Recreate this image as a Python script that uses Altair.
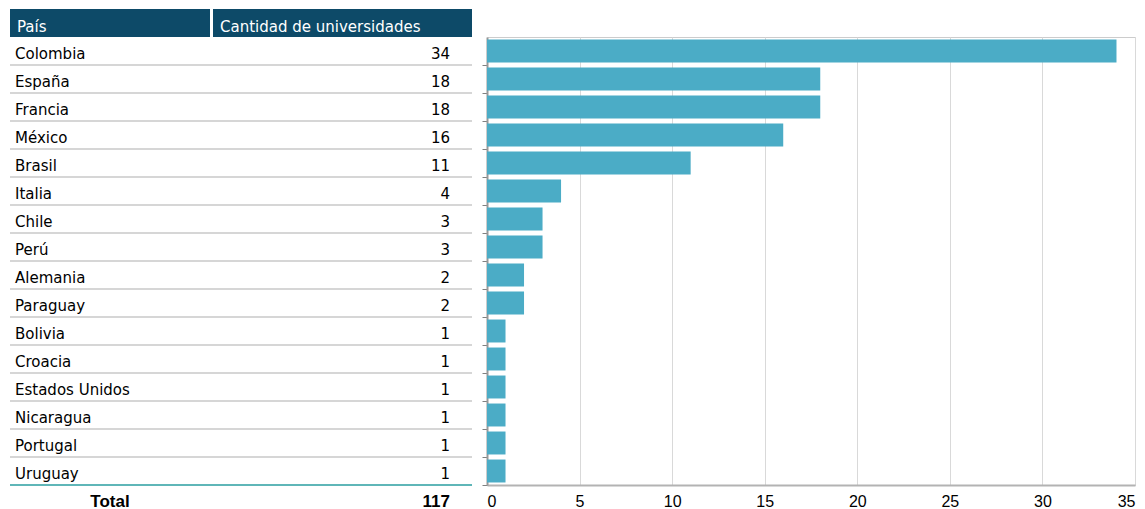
import altair as alt
import pandas as pd

countries = ["Colombia", "España", "Francia", "México", "Brasil", "Italia", "Chile", "Perú",
             "Alemania", "Paraguay", "Bolivia", "Croacia", "Estados Unidos", "Nicaragua",
             "Portugal", "Uruguay"]
counts = [34, 18, 18, 16, 11, 4, 3, 3, 2, 2, 1, 1, 1, 1, 1, 1]
headers = ["País", "Cantidad de universidades"]
total_label = "Total"
x_ticks = [0, 5, 10, 15, 20, 25, 30, 35]

BAR = "#4BACC6"
HEAD = "#0D4A68"
TABLE_FONT = "DejaVu Sans"
NARROW = "Liberation Sans Narrow, Liberation Sans, Arial"

n = len(countries)
LW = 462   # table panel width
RW = 648   # bar panel width
H = 448    # rows area height

df = pd.DataFrame({"country": countries, "count": counts, "row": list(range(n))})
df["mid"] = df["row"] + 0.5
df["line"] = df["row"] + 1
df["kind"] = ["sep"] * (n - 1) + ["end"]

header_df = pd.DataFrame({
    "label": headers,
    "x0": [0, 203], "x1": [200, LW], "tx": [7, 210],
    "top": [-1, -1], "bot": [0, 0], "mid": [-0.5, -0.5],
})
total_df = pd.DataFrame({
    "label": [total_label, str(sum(counts))],
    "tx": [100, 440], "align": ["center", "right"], "mid": [n + 0.5, n + 0.5],
})

yq = alt.Scale(domain=[0, n], reverse=True, nice=False, zero=False)
xq = alt.Scale(domain=[0, LW], nice=False, zero=False)

base_l = alt.Chart(df)

head_rect = alt.Chart(header_df).mark_rect(color=HEAD).encode(
    x=alt.X("x0:Q", scale=xq, axis=None), x2="x1:Q",
    y=alt.Y("top:Q", scale=yq, axis=None), y2="bot:Q",
)
head_text = alt.Chart(header_df).mark_text(
    align="left", baseline="middle", color="white", font=TABLE_FONT, fontSize=15, dy=4
).encode(
    x=alt.X("tx:Q", scale=xq, axis=None),
    y=alt.Y("mid:Q", scale=yq, axis=None),
    text="label:N",
)
lines = base_l.mark_rule(strokeWidth=2).encode(
    x=alt.value(0), x2=alt.value(LW),
    y=alt.Y("line:Q", scale=yq, axis=None),
    color=alt.Color("kind:N", scale=alt.Scale(domain=["sep", "end"], range=["#d6d6d6", "#5fb6b8"]), legend=None),
)
names = base_l.mark_text(
    align="left", baseline="middle", color="black", font=TABLE_FONT, fontSize=15, dy=3
).encode(
    x=alt.value(5), y=alt.Y("mid:Q", scale=yq, axis=None), text="country:N",
)
nums = base_l.mark_text(
    align="right", baseline="middle", color="black", font=TABLE_FONT, fontSize=15, dy=3
).encode(
    x=alt.value(440), y=alt.Y("mid:Q", scale=yq, axis=None), text="count:Q",
)
tot_c = alt.Chart(total_df).transform_filter("datum.align == 'center'").mark_text(
    align="center", baseline="middle", color="black", font=NARROW, fontSize=17, fontWeight="bold", dy=3
).encode(x=alt.X("tx:Q", scale=xq, axis=None), y=alt.Y("mid:Q", scale=yq, axis=None), text="label:N")
tot_r = alt.Chart(total_df).transform_filter("datum.align == 'right'").mark_text(
    align="right", baseline="middle", color="black", font=NARROW, fontSize=17, fontWeight="bold", dy=3
).encode(x=alt.X("tx:Q", scale=xq, axis=None), y=alt.Y("mid:Q", scale=yq, axis=None), text="label:N")

left = alt.layer(head_rect, head_text, lines, names, nums, tot_c, tot_r).properties(
    width=LW, height=H, view=alt.ViewBackground(stroke="transparent")
)

right = alt.Chart(df).mark_bar(color=BAR).encode(
    x=alt.X("count:Q", scale=alt.Scale(domain=[0, 35], nice=False),
            axis=alt.Axis(values=x_ticks, title=None, grid=True, gridColor="#d9d9d9",
                          domainColor="#b3b3b3", domainWidth=2, ticks=False,
                          labelFont=NARROW, labelFontSize=16, labelColor="black",
                          labelPadding=8)),
    y=alt.Y("country:N", sort=countries, scale=alt.Scale(paddingInner=0.18, paddingOuter=0.09),
            axis=alt.Axis(labels=False, title=None, grid=False, domainColor="#999999",
                          domainWidth=2, tickColor="#808080", tickSize=5, tickOffset=14)),
).properties(width=RW, height=H, view=alt.ViewBackground(stroke="#cccccc"))

chart = alt.hconcat(left, right, spacing=15, bounds="flush").properties(
    padding={"left": 0, "top": 0, "right": 0, "bottom": 0}
).configure_view(strokeWidth=1)

chart.save("out.html", embed_options={"renderer": "svg", "actions": False})
